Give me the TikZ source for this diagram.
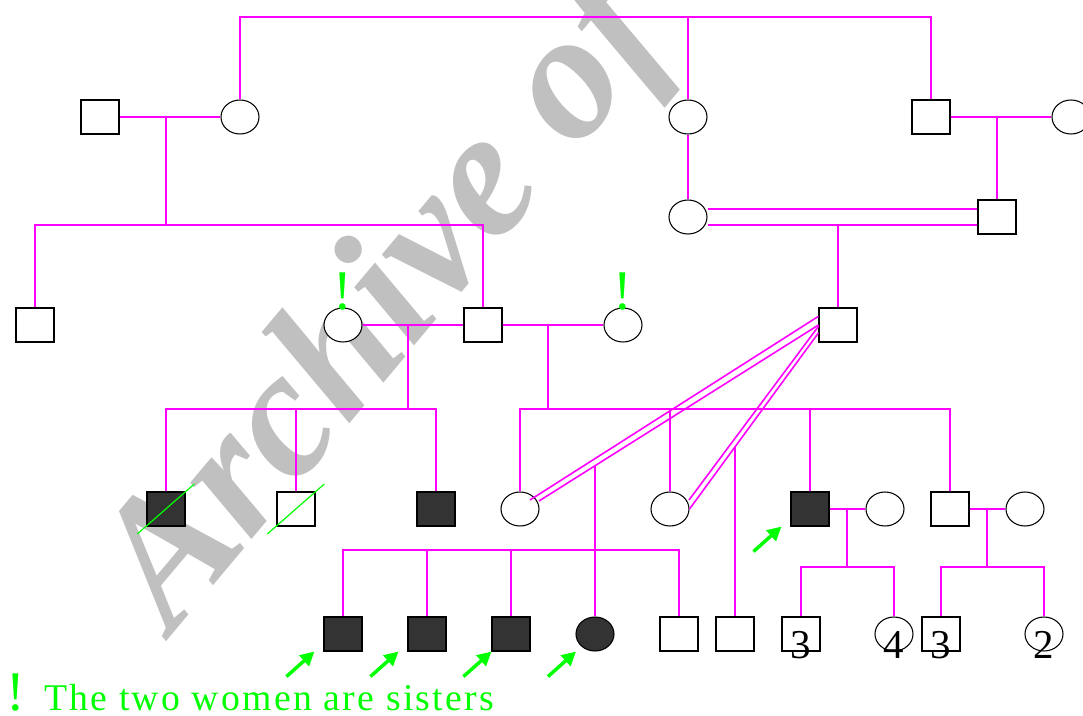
\documentclass[tikz,border=0pt]{standalone}
\usepackage{fontspec}
\setmainfont{Liberation Serif}
\newfontfamily\notefont[LetterSpace=6]{Liberation Serif}
\usetikzlibrary{arrows.meta, shapes.geometric}

\definecolor{pedline}{RGB}{255,0,255}
\definecolor{affected}{RGB}{51,51,51}
\definecolor{wmgray}{RGB}{192,192,192}
\definecolor{notegreen}{RGB}{0,255,0}

\begin{document}
\begin{tikzpicture}[
    x=0.75pt, y=-0.75pt,
    male/.style={rectangle, draw, line width=0.8pt, fill=white, minimum width=28.5pt, minimum height=25.5pt, inner sep=0pt},
    female/.style={ellipse, draw, line width=0.8pt, fill=white, minimum width=28.5pt, minimum height=25.5pt, inner sep=0pt},
    affect/.style={fill=affected},
    note/.style={text=notegreen, inner sep=0pt, font=\fontsize{42}{42}\selectfont},
    num/.style={inner sep=0pt, font=\fontsize{30.75}{31}\selectfont},
    sister/.style={label={[note, label distance=-2.25pt]above:!}},
    kids/.style={label={[num, yshift=-8.25pt]center:#1}},
    rel/.style={draw=pedline, line width=1.2pt},
    slash/.style={draw=notegreen, line width=0.9pt},
    proband/.style={-{Triangle[length=10.5pt, width=10.5pt]}, draw=notegreen, line width=2.6pt}
]

% Background
\useasboundingbox (0,0) rectangle (1083,715);
\clip (0,0) rectangle (1083,715);
\fill[white] (0,0) rectangle (1083,715);

% Watermark
\node[anchor=base west, rotate=50, inner sep=0pt, text=wmgray, font=\fontsize{136}{136}\selectfont\bfseries\itshape] (wm) at (172,635) {Archive of};

% Generation I
\node[male] (A1) at (100,117) {};
\node[female] (A2) at (240,117) {};
\node[female] (B1) at (688,117) {};
\node[male] (B2) at (931,117) {};
\node[female] (B3) at (1071,117) {};

% Generation II
\node[female] (C1) at (688,217) {};
\node[male] (C2) at (997,217) {};

% Generation III
\node[male] (C0) at (35,325) {};
\node[female, sister] (W1) at (343,325) {};
\node[male] (C3) at (483,325) {};
\node[female, sister] (W2) at (623,325) {};
\node[male] (D) at (838,325) {};

% Generation IV
\node[male, affect] (F1) at (166,509) {};
\node[male] (F2) at (296,509) {};
\node[male, affect] (F3) at (436,509) {};
\node[female] (E1) at (520,509) {};
\node[female] (E2) at (670,509) {};
\node[male, affect] (G) at (810,509) {};
\node[female] (K) at (885,509) {};
\node[male] (H) at (950,509) {};
\node[female] (M) at (1025,509) {};

% Generation V
\node[male, affect] (J1) at (343,634) {};
\node[male, affect] (J2) at (427,634) {};
\node[male, affect] (J3) at (511,634) {};
\node[female, affect] (I) at (595,634) {};
\node[male] (J5) at (679,634) {};
\node[male] (P) at (735,634) {};
\node[male, kids=3] (L1) at (801,634) {};
\node[female, kids=4] (L2) at (894,634) {};
\node[male, kids=3] (N1) at (941,634) {};
\node[female, kids=2] (N2) at (1044,634) {};

% Junctions
\coordinate (t0) at (688,17);
\coordinate (m1) at (166,117);
\coordinate (s1) at (166,225);
\coordinate (m2) at (997,117);
\coordinate (m3) at (838,225);
\coordinate (m4) at (408,325);
\coordinate (s4) at (408,409);
\coordinate (m5) at (548,325);
\coordinate (s5) at (548,409);
\coordinate (d1) at (595,466);
\coordinate (s6) at (595,550);
\coordinate (d2) at (735,447);
\coordinate (m6) at (847,509);
\coordinate (s7) at (847,567);
\coordinate (m7) at (987,509);
\coordinate (s8) at (987,567);

% Connections
\draw[rel] (A2.north) |- (t0) -| (B2.north);
\draw[rel] (t0) -- (B1.north);
\draw[rel] (A1) -- (A2);
\draw[rel] (m1) -- (s1);
\draw[rel] (C0.north) |- (s1) -| (C3.north);
\draw[rel] (B1) -- (C1);
\draw[rel] (B2) -- (B3);
\draw[rel] (m2) -- (C2.north);
\draw[rel] ([yshift=6pt]C1.east) -- ([yshift=6pt]C2.west);
\draw[rel] ([yshift=-6pt]C1.east) -- ([yshift=-6pt]C2.west);
\draw[rel] (m3) -- (D.north);
\draw[rel] (W1) -- (C3);
\draw[rel] (C3) -- (W2);
\draw[rel] (m4) -- (s4);
\draw[rel] (F1.north) |- (s4) -| (F3.north);
\draw[rel] (F2.north) -- (F2.north |- s4);
\draw[rel] (m5) -- (s5);
\draw[rel] (E1.north) |- (s5) -| (H.north);
\draw[rel] (E2.north) -- (E2.north |- s5);
\draw[rel] (G.north) -- (G.north |- s5);
\draw[rel] (D.156) -- ([shift={(10,-9)}]E1.center);
\draw[rel] (D.180) -- ([shift={(19,-8)}]E1.center);
\draw[rel] (D.184) -- ([shift={(19,-9)}]E2.center);
\draw[rel] (D.202) -- (E2.east);
\draw[rel] (d1) -- (I.north);
\draw[rel] (J1.north) |- (s6) -| (J5.north);
\draw[rel] (J2.north) -- (J2.north |- s6);
\draw[rel] (J3.north) -- (J3.north |- s6);
\draw[rel] (d2) -- (P.north);
\draw[rel] (G) -- (K);
\draw[rel] (m6) -- (s7);
\draw[rel] (L1.north) |- (s7) -| (L2.north);
\draw[rel] (H) -- (M);
\draw[rel] (m7) -- (s8);
\draw[rel] (N1.north) |- (s8) -| (N2.north);

% Deceased
\draw[slash] ([shift={(-28.7,25)}]F1.center) -- ([shift={(28.3,-25)}]F1.center);
\draw[slash] ([shift={(-28.7,25)}]F2.center) -- ([shift={(28.3,-25)}]F2.center);

% Probands
\draw[proband] ([shift={(-37,25)}]J1.south west) -- ([shift={(-9,0)}]J1.south west);
\draw[proband] ([shift={(-37,25)}]J2.south west) -- ([shift={(-9,0)}]J2.south west);
\draw[proband] ([shift={(-28,25)}]J3.south west) -- (J3.south west);
\draw[proband] ([shift={(-47,25)}]I.south) -- ([shift={(-19,0)}]I.south);
\draw[proband] ([shift={(-37,25)}]G.south west) -- ([shift={(-9,0)}]G.south west);

% Key
\node[note, anchor=base west] (bang) at (6,710) {!};
\node[anchor=base west, inner sep=0pt, text=notegreen, font=\notefont\fontsize{28.3}{29}\selectfont] (key) at (44,710) {The two women are sisters};

\end{tikzpicture}
\end{document}
